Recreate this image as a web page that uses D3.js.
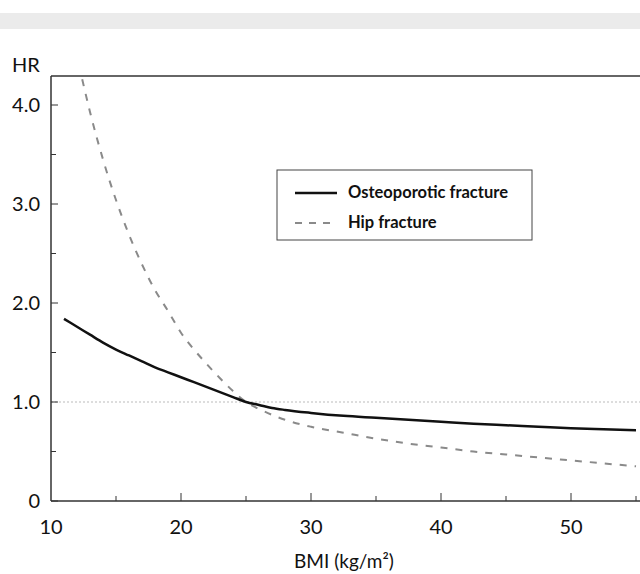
<!DOCTYPE html>
<html>
<head>
<meta charset="utf-8">
<script src="https://cdn.jsdelivr.net/npm/d3@7/dist/d3.min.js"></script>
<style>
  body { margin: 0; background: #fff; }
  svg { display: block; }
  text { font-family: Lato, "Open Sans", sans-serif; fill: #111; }
</style>
</head>
<body>
<svg width="640" height="574"></svg>
<script>
// values
var bmiOst = [11, 12, 13, 14, 15, 16, 17, 18, 19, 20, 21, 22, 23, 24, 25, 26, 27, 28, 30, 32.5, 35, 37.5, 40, 42.5, 45, 47.5, 50, 52.5, 55];
var hrOst  = [1.84, 1.76, 1.68, 1.60, 1.53, 1.47, 1.41, 1.35, 1.30, 1.25, 1.20, 1.15, 1.10, 1.05, 1.00, 0.97, 0.94, 0.92, 0.89, 0.86, 0.84, 0.82, 0.80, 0.78, 0.765, 0.75, 0.735, 0.725, 0.715];

var bmiHip = [12.4, 13, 14, 15, 16, 17, 18, 19, 20, 21, 22, 23, 24, 25, 26, 27, 28, 30, 32.5, 35, 37.5, 40, 42.5, 45, 47.5, 50, 52.5, 55];
var hrHip  = [4.26, 3.93, 3.45, 3.04, 2.69, 2.39, 2.13, 1.92, 1.70, 1.53, 1.38, 1.24, 1.11, 1.00, 0.93, 0.87, 0.82, 0.75, 0.69, 0.63, 0.58, 0.54, 0.50, 0.47, 0.44, 0.41, 0.38, 0.35];

var yTicks = [0, 1, 2, 3, 4];
var yTickLabels = ["0", "1.0", "2.0", "3.0", "4.0"];
var yMinor = [0.5, 1.5, 2.5, 3.5];
var xTicks = [10, 20, 30, 40, 50];
var xMinor = [15, 25, 35, 45, 55];
var seriesNames = ["Osteoporotic fracture", "Hip fracture"];

var svg = d3.select("svg"),
    width = +svg.attr("width"),
    height = +svg.attr("height");

var x = d3.scaleLinear().domain([10, 55]).range([51, 636]);
var y = d3.scaleLinear().domain([0, 4]).range([501, 105]);
var yTop = 76;

// scanned header strip
svg.append("rect")
    .attr("x", 0).attr("y", 13)
    .attr("width", width).attr("height", 16)
    .attr("fill", "#ebebeb");

// reference line at HR 1.0
svg.append("line")
    .attr("x1", x(10)).attr("x2", width)
    .attr("y1", y(1)).attr("y2", y(1))
    .attr("stroke", "#bbb")
    .attr("stroke-width", 1)
    .attr("stroke-dasharray", "2,2");

// frame
var frame = svg.append("g")
    .attr("stroke", "#333")
    .attr("stroke-width", 1.5)
    .attr("fill", "none");
frame.append("line").attr("x1", x(10)).attr("x2", width).attr("y1", yTop).attr("y2", yTop);
frame.append("line").attr("x1", x(10)).attr("x2", x(10)).attr("y1", yTop).attr("y2", y(0));
frame.append("line").attr("x1", x(10)).attr("x2", width).attr("y1", y(0)).attr("y2", y(0));

// y ticks (inside)
frame.selectAll(".ymaj").data(yTicks).enter().append("line")
    .attr("x1", x(10)).attr("x2", x(10) + 7)
    .attr("y1", function (d) { return y(d); })
    .attr("y2", function (d) { return y(d); })
    .attr("stroke-width", 1);
frame.selectAll(".ymin").data(yMinor).enter().append("line")
    .attr("x1", x(10)).attr("x2", x(10) + 5)
    .attr("y1", function (d) { return y(d); })
    .attr("y2", function (d) { return y(d); })
    .attr("stroke-width", 1);

// x ticks (inside)
frame.selectAll(".xmaj").data(xTicks.slice(1)).enter().append("line")
    .attr("x1", function (d) { return x(d); })
    .attr("x2", function (d) { return x(d); })
    .attr("y1", y(0)).attr("y2", y(0) - 8)
    .attr("stroke-width", 1);
frame.selectAll(".xmin").data(xMinor).enter().append("line")
    .attr("x1", function (d) { return x(d); })
    .attr("x2", function (d) { return x(d); })
    .attr("y1", y(0)).attr("y2", y(0) - 5)
    .attr("stroke-width", 1);

// tick labels
svg.selectAll(".ylab").data(yTicks).enter().append("text")
    .attr("x", 40)
    .attr("y", function (d) { return y(d) + 7; })
    .attr("text-anchor", "end")
    .attr("font-size", 20)
    .text(function (d, i) { return yTickLabels[i]; });

svg.selectAll(".xlab").data(xTicks).enter().append("text")
    .attr("x", function (d) { return x(d); })
    .attr("y", 534)
    .attr("text-anchor", "middle")
    .attr("font-size", 20)
    .text(function (d) { return d; });

svg.append("text")
    .attr("x", 12).attr("y", 72)
    .attr("font-size", 20)
    .text("HR");

svg.append("text")
    .attr("x", 344).attr("y", 568)
    .attr("text-anchor", "middle")
    .attr("font-size", 19)
    .text("BMI (kg/m²)");

// curves
var line = d3.line()
    .x(function (d) { return x(d[0]); })
    .y(function (d) { return y(d[1]); })
    .curve(d3.curveMonotoneX);

svg.append("path")
    .datum(d3.zip(bmiHip, hrHip))
    .attr("d", line)
    .attr("fill", "none")
    .attr("stroke", "#8a8a8a")
    .attr("stroke-width", 2)
    .attr("stroke-dasharray", "7,8");

svg.append("path")
    .datum(d3.zip(bmiOst, hrOst))
    .attr("d", line)
    .attr("fill", "none")
    .attr("stroke", "#111")
    .attr("stroke-width", 2.5);

// legend
var lg = svg.append("g");
lg.append("rect")
    .attr("x", 277).attr("y", 170)
    .attr("width", 255).attr("height", 70)
    .attr("fill", "#fff")
    .attr("stroke", "#444")
    .attr("stroke-width", 1);
lg.append("line")
    .attr("x1", 295).attr("x2", 337).attr("y1", 193).attr("y2", 193)
    .attr("stroke", "#111").attr("stroke-width", 2.5);
lg.append("line")
    .attr("x1", 295).attr("x2", 337).attr("y1", 223).attr("y2", 223)
    .attr("stroke", "#8a8a8a").attr("stroke-width", 2)
    .attr("stroke-dasharray", "7,7");
lg.selectAll(".lt").data(seriesNames).enter().append("text")
    .attr("x", 348)
    .attr("y", function (d, i) { return 198 + i * 30; })
    .attr("font-size", 16.5)
    .attr("font-weight", "bold")
    .text(function (d) { return d; });
</script>
</body>
</html>
